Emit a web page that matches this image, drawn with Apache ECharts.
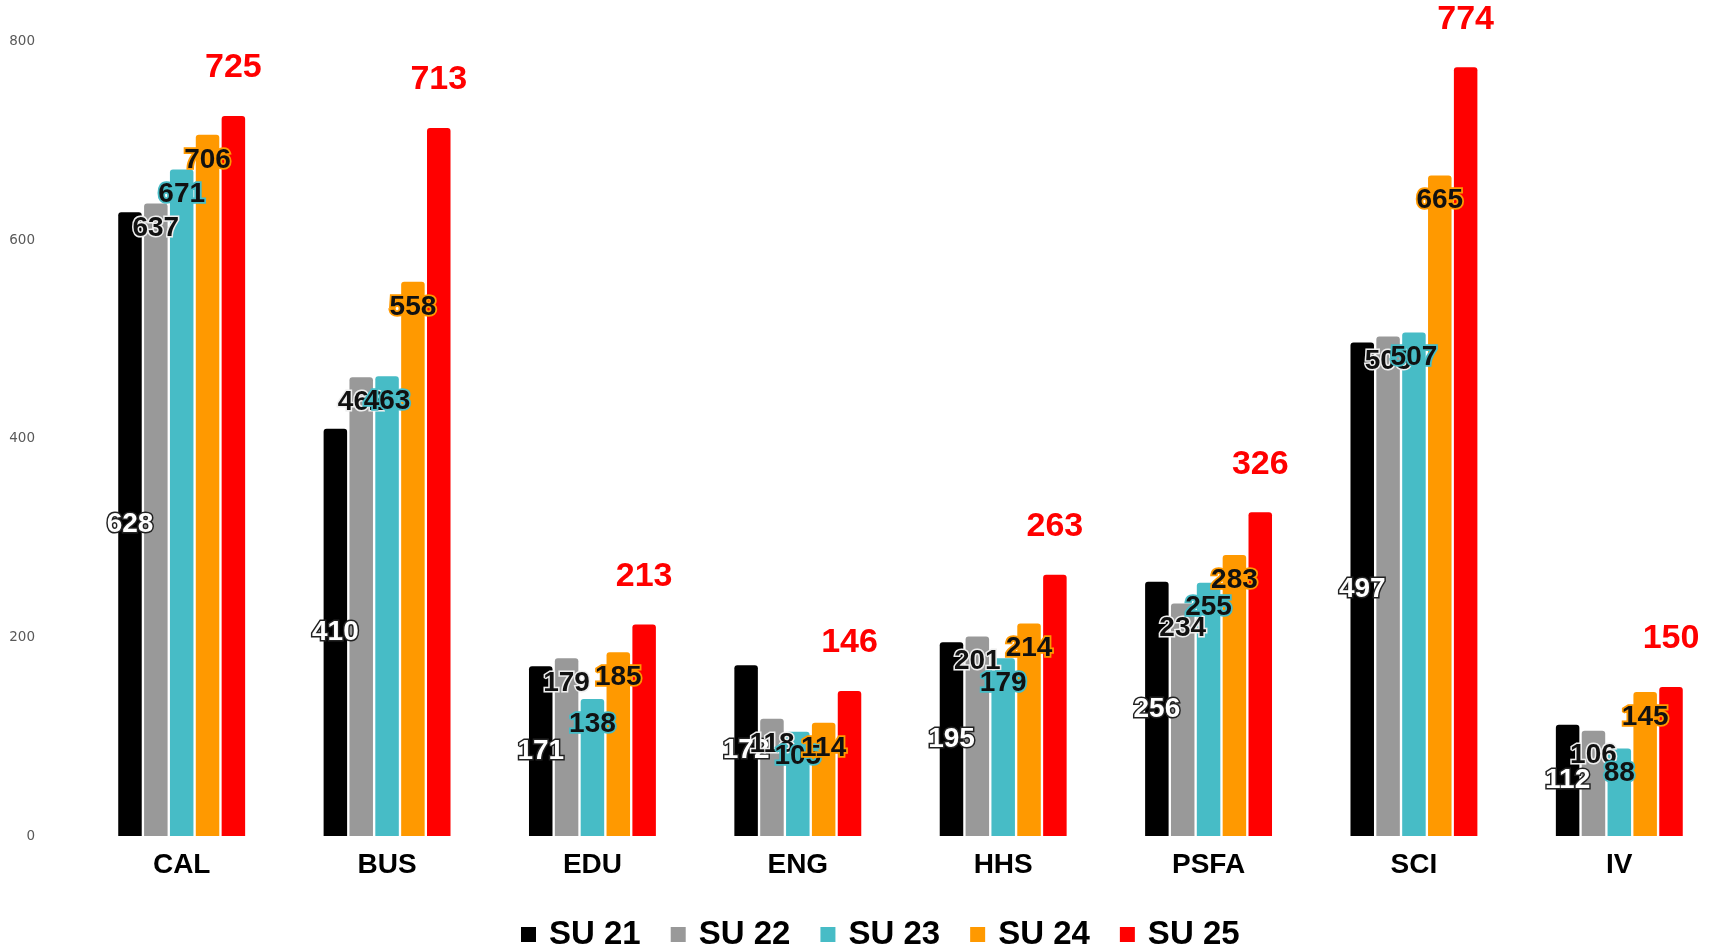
<!DOCTYPE html>
<html>
<head>
<meta charset="utf-8">
<script src="https://cdn.jsdelivr.net/npm/echarts@6/dist/echarts.min.js"></script>
<style>
  html, body { margin: 0; padding: 0; background: #ffffff; overflow: hidden; }
  #chart { width: 1725px; height: 948px; }
</style>
</head>
<body>
<div id="chart"></div>
<script>
// Summer enrollment by college, SU 21 through SU 25
const categories = ['CAL', 'BUS', 'EDU', 'ENG', 'HHS', 'PSFA', 'SCI', 'IV'];
const seriesNames = ['SU 21', 'SU 22', 'SU 23', 'SU 24', 'SU 25'];
const su21 = [628, 410, 171, 172, 195, 256, 497, 112];
const su22 = [637, 462, 179, 118, 201, 234, 503, 106];
const su23 = [671, 463, 138, 105, 179, 255, 507, 88];
const su24 = [706, 558, 185, 114, 214, 283, 665, 145];
const su25 = [725, 713, 213, 146, 263, 326, 774, 150];
const yTicks = [0, 200, 400, 600, 800];

const FONT = '"Liberation Sans", Arial, sans-serif';
const colors = ['#000000', '#999999', '#47BCC6', '#FF9900', '#FF0000'];
const values = [su21, su22, su23, su24, su25];

// per-series value label styling
const labelStyles = [
  { position: 'inside', color: '#ffffff', textBorderColor: '#222222', textBorderWidth: 3 },
  { position: 'insideTop', distance: 11, color: '#111111', textBorderColor: '#eeeeee', textBorderWidth: 3 },
  { position: 'insideTop', distance: 11, color: '#111111', textBorderColor: '#47BCC6', textBorderWidth: 3.5 },
  { position: 'insideTop', distance: 11, color: '#111111', textBorderColor: '#FF9900', textBorderWidth: 3.5 },
  { position: 'top', distance: 31, color: '#FF0000', fontSize: 34 }
];

const chart = echarts.init(document.getElementById('chart'), null, { renderer: 'canvas' });

const series = seriesNames.map((name, i) => ({
  name: name,
  type: 'bar',
  data: values[i],
  barWidth: 23.5,
  barGap: '10%',
  itemStyle: { color: colors[i], borderRadius: [3, 3, 0, 0] },
  label: Object.assign({
    show: true,
    fontFamily: FONT,
    fontWeight: 'bold',
    fontSize: 28
  }, labelStyles[i])
}));

chart.setOption({
  backgroundColor: '#ffffff',
  animation: false,
  color: colors,
  grid: { left: 79, top: 41.5, right: 3, bottom: 112, containLabel: false },
  legend: {
    data: seriesNames,
    left: 516,
    top: 913,
    icon: 'rect',
    itemWidth: 15,
    itemHeight: 15,
    itemGap: 30,
    textStyle: {
      fontFamily: FONT,
      fontWeight: 'bold',
      fontSize: 33,
      color: '#000000',
      padding: [0, 0, 0, 8]
    }
  },
  xAxis: {
    type: 'category',
    data: categories,
    axisLine: { show: false },
    axisTick: { show: false },
    axisLabel: {
      margin: 15,
      fontFamily: FONT,
      fontWeight: 'bold',
      fontSize: 28,
      color: '#000000'
    }
  },
  yAxis: {
    type: 'value',
    min: yTicks[0],
    max: yTicks[yTicks.length - 1],
    interval: yTicks[1] - yTicks[0],
    splitLine: { show: false },
    axisLine: { show: false },
    axisTick: { show: false },
    axisLabel: {
      margin: 44,
      fontFamily: '"DejaVu Sans", sans-serif',
      fontSize: 13.5,
      color: '#595959'
    }
  },
  series: series
});
</script>
</body>
</html>
